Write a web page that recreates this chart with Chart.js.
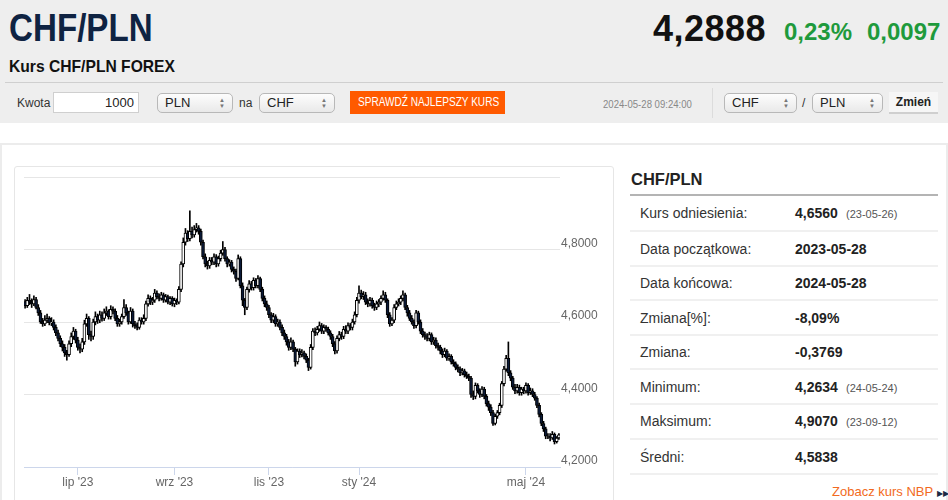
<!DOCTYPE html>
<html lang="pl">
<head>
<meta charset="utf-8">
<title>CHF/PLN</title>
<script src="https://cdn.jsdelivr.net/npm/chart.js@4.4.1/dist/chart.umd.min.js"></script>
<style>
  body { margin:0; width:948px; height:500px; overflow:hidden; background:#fff; position:relative;
         font-family:"Liberation Sans", Arial, sans-serif; color:#333; }
  .a { position:absolute; white-space:nowrap; }
  #top { position:absolute; left:0; top:0; width:948px; height:123px; background:#eeeeee; }
  #title { left:9px; top:8px; font-size:39px; line-height:39px; font-weight:bold; color:#0f2342; transform:scaleX(0.85); transform-origin:0 0; }
  #sub { left:9px; top:58px; font-size:17px; line-height:17px; font-weight:bold; color:#111; transform:scaleX(0.92); transform-origin:0 0; }
  #price { left:653px; top:11px; font-size:36px; line-height:36px; font-weight:bold; color:#111; letter-spacing:0.5px; }
  .chg { top:20px; font-size:24px; line-height:24px; font-weight:bold; color:#1e9a3c; }
  #rule { left:5px; top:82px; width:938px; height:1px; background:#cfcfcf; }
  .lbl { font-size:12px; line-height:14px; color:#333; }
  .inp { background:#fff; border:1px solid #cfcfcf; height:21px; box-sizing:border-box; text-align:right;
         font-size:13px; line-height:19px; padding-right:4px; color:#222; }
  .sel { height:20px; box-sizing:border-box; border:1px solid #b8b8b8; border-radius:5px;
         background:linear-gradient(#fdfdfd,#e9e9e9); font-size:13px; line-height:18px; padding-left:7px; color:#222; }
  .sel i { position:absolute; right:7px; top:3px; font-style:normal; font-size:6px; line-height:6px; color:#777; }
  #btn { left:350px; top:91px; width:155px; height:23px; background:#ff5a00; }
  #btn span { left:8px; top:5px; font-size:12px; line-height:13px; color:#fff; transform:scaleX(0.84); transform-origin:0 0; }
  #date { left:603px; top:98px; font-size:11px; line-height:12px; color:#888; transform:scaleX(0.87); transform-origin:0 0; }
  #sep { left:712px; top:88px; width:1px; height:30px; background:#dcdcdc; }
  #zm { left:889px; top:92px; width:49px; height:22px; box-sizing:border-box; background:#f6f6f6; border-bottom:2px solid #cfcfcf;
        font-size:12px; line-height:20px; font-weight:bold; color:#222; text-align:center; }
  #card { left:0; top:143px; width:944px; height:400px; border:2px solid #ececec; border-bottom:none; }
  #box { left:14px; top:166px; width:598px; height:340px; border:1px solid #e6e6e6; border-radius:3px; }
  #box canvas { position:absolute; left:0; top:0; }
  #ptitle { left:631px; top:171px; font-size:16.5px; line-height:17px; font-weight:bold; color:#222; }
  #prule { left:630px; top:194px; width:308px; height:2px; background:#b4b4b4; }
  .hr { left:630px; width:308px; height:2px; background:#f0f0f0; }
  .k { left:640px; font-size:14px; line-height:16px; color:#333; }
  .v { left:795px; font-size:14px; line-height:16px; font-weight:bold; color:#222; }
  .d { left:846px; font-size:11px; line-height:16px; color:#555; }
  #nbp { left:832px; top:484px; font-size:13px; line-height:15px; color:#f26a21; }
  #nbp b { font-size:8px; color:#1d2a44; font-weight:normal; }
</style>
</head>
<body>
<div id="top"></div>
<div class="a" id="title">CHF/PLN</div>
<div class="a" id="sub">Kurs CHF/PLN FOREX</div>
<div class="a" id="price">4,2888</div>
<div class="a chg" style="left:784px">0,23%</div>
<div class="a chg" style="left:867px">0,0097</div>
<div class="a" id="rule"></div>

<div class="a lbl" style="left:17px;top:96px">Kwota</div>
<div class="a inp" style="left:53px;top:92px;width:86px">1000</div>
<div class="a sel" style="left:157px;top:93px;width:76px">PLN<i>▲<br>▼</i></div>
<div class="a lbl" style="left:239px;top:96px">na</div>
<div class="a sel" style="left:259px;top:93px;width:76px">CHF<i>▲<br>▼</i></div>
<div class="a" id="btn"><span class="a">SPRAWDŹ NAJLEPSZY KURS</span></div>
<div class="a" id="date">2024-05-28 09:24:00</div>
<div class="a" id="sep"></div>
<div class="a sel" style="left:724px;top:93px;width:73px">CHF<i>▲<br>▼</i></div>
<div class="a lbl" style="left:802px;top:96px">/</div>
<div class="a sel" style="left:812px;top:93px;width:71px">PLN<i>▲<br>▼</i></div>
<div class="a" id="zm">Zmień</div>

<div class="a" id="card"></div>
<div class="a" id="box"><canvas id="myChart" width="598" height="333"></canvas></div>

<div class="a" id="ptitle">CHF/PLN</div>
<div class="a" id="prule"></div>
<div class="a k" style="top:205px">Kurs odniesienia:</div><div class="a v" style="top:205px">4,6560</div><div class="a d" style="top:206px">(23-05-26)</div>
<div class="a hr" style="top:230px"></div>
<div class="a k" style="top:241px">Data początkowa:</div><div class="a v" style="top:241px">2023-05-28</div>
<div class="a hr" style="top:265px"></div>
<div class="a k" style="top:275px">Data końcowa:</div><div class="a v" style="top:275px">2024-05-28</div>
<div class="a hr" style="top:299px"></div>
<div class="a k" style="top:310px">Zmiana[%]:</div><div class="a v" style="top:310px">-8,09%</div>
<div class="a hr" style="top:334px"></div>
<div class="a k" style="top:344px">Zmiana:</div><div class="a v" style="top:344px">-0,3769</div>
<div class="a hr" style="top:368px"></div>
<div class="a k" style="top:379px">Minimum:</div><div class="a v" style="top:379px">4,2634</div><div class="a d" style="top:380px">(24-05-24)</div>
<div class="a hr" style="top:403px"></div>
<div class="a k" style="top:413px">Maksimum:</div><div class="a v" style="top:413px">4,9070</div><div class="a d" style="top:414px">(23-09-12)</div>
<div class="a hr" style="top:438px"></div>
<div class="a k" style="top:449px">Średni:</div><div class="a v" style="top:449px">4,5838</div>
<div class="a hr" style="top:473px"></div>
<div class="a" id="nbp">Zobacz kurs NBP <b>▶▶</b></div>

<script>
// kurs odniesienia (23-05-26) = otwarcie pierwszej świecy
const refClose = 4.656;

// dzienne kursy zamknięcia CHF/PLN, 2023-05-29 .. 2024-05-28
const closes = [
  4.645, 4.660, 4.655, 4.650, 4.662, 4.640, 4.625, 4.600, 4.595, 4.605,
  4.610, 4.598, 4.600, 4.585, 4.570, 4.555, 4.540, 4.530, 4.515, 4.510,
  4.540, 4.560, 4.575, 4.550, 4.530, 4.525, 4.545, 4.595, 4.610, 4.565,
  4.560, 4.600, 4.615, 4.605, 4.620, 4.610, 4.625, 4.630, 4.615, 4.635,
  4.630, 4.610, 4.595, 4.600, 4.615, 4.640, 4.625, 4.600, 4.630, 4.595,
  4.590, 4.585, 4.605, 4.600, 4.610, 4.650, 4.665, 4.655, 4.660, 4.680,
  4.670, 4.665, 4.675, 4.660, 4.670, 4.655, 4.665, 4.650, 4.660, 4.655,
  4.690, 4.760, 4.820, 4.845, 4.830, 4.850, 4.840, 4.855, 4.860, 4.850,
  4.820, 4.780, 4.760, 4.755, 4.770, 4.765, 4.780, 4.760, 4.775, 4.790,
  4.800, 4.775, 4.760, 4.765, 4.745, 4.740, 4.720, 4.775, 4.700, 4.660,
  4.640, 4.690, 4.705, 4.695, 4.715, 4.700, 4.720, 4.690, 4.665, 4.650,
  4.640, 4.620, 4.605, 4.615, 4.595, 4.600, 4.585, 4.570, 4.560, 4.545,
  4.530, 4.545, 4.525, 4.490, 4.520, 4.510, 4.515, 4.505, 4.495, 4.475,
  4.530, 4.575, 4.570, 4.580, 4.590, 4.575, 4.585, 4.580, 4.570, 4.560,
  4.540, 4.520, 4.555, 4.565, 4.560, 4.580, 4.575, 4.590, 4.585, 4.600,
  4.620, 4.660, 4.680, 4.670, 4.675, 4.655, 4.650, 4.660, 4.645, 4.640,
  4.650, 4.655, 4.665, 4.675, 4.660, 4.620, 4.595, 4.605, 4.640, 4.650,
  4.655, 4.665, 4.675, 4.640, 4.625, 4.610, 4.600, 4.590, 4.625, 4.600,
  4.575, 4.565, 4.560, 4.555, 4.565, 4.545, 4.550, 4.535, 4.530, 4.520,
  4.510, 4.520, 4.500, 4.505, 4.490, 4.485, 4.475, 4.470, 4.460, 4.465,
  4.455, 4.450, 4.445, 4.400, 4.395, 4.425, 4.410, 4.400, 4.415, 4.395,
  4.375, 4.365, 4.350, 4.320, 4.340, 4.350, 4.370, 4.430, 4.470, 4.500,
  4.460, 4.445, 4.420, 4.410, 4.420, 4.405, 4.415, 4.410, 4.425, 4.405,
  4.410, 4.400, 4.390, 4.370, 4.345, 4.320, 4.305, 4.285, 4.285, 4.280,
  4.290, 4.270, 4.280, 4.2888
];

// dzienne maksima
const highs = [
  4.662, 4.668, 4.676, 4.664, 4.672, 4.668, 4.648, 4.632, 4.610, 4.618,
  4.622, 4.615, 4.612, 4.606, 4.592, 4.578, 4.562, 4.548, 4.538, 4.522,
  4.548, 4.570, 4.585, 4.580, 4.558, 4.540, 4.555, 4.605, 4.622, 4.615,
  4.575, 4.608, 4.628, 4.622, 4.630, 4.628, 4.636, 4.642, 4.634, 4.645,
  4.642, 4.636, 4.618, 4.608, 4.622, 4.662, 4.648, 4.630, 4.640, 4.636,
  4.602, 4.598, 4.612, 4.612, 4.620, 4.658, 4.675, 4.672, 4.668, 4.690,
  4.686, 4.678, 4.682, 4.680, 4.676, 4.674, 4.670, 4.670, 4.666, 4.664,
  4.698, 4.766, 4.832, 4.858, 4.852, 4.907, 4.862, 4.866, 4.872, 4.866,
  4.856, 4.826, 4.788, 4.768, 4.778, 4.778, 4.788, 4.786, 4.782, 4.798,
  4.822, 4.806, 4.780, 4.772, 4.770, 4.752, 4.746, 4.785, 4.780, 4.708,
  4.665, 4.696, 4.714, 4.712, 4.722, 4.720, 4.728, 4.724, 4.696, 4.672,
  4.658, 4.646, 4.626, 4.624, 4.620, 4.608, 4.606, 4.592, 4.578, 4.566,
  4.552, 4.556, 4.550, 4.530, 4.526, 4.526, 4.524, 4.520, 4.512, 4.500,
  4.538, 4.582, 4.584, 4.588, 4.600, 4.596, 4.592, 4.590, 4.586, 4.576,
  4.566, 4.546, 4.562, 4.574, 4.572, 4.588, 4.590, 4.598, 4.596, 4.608,
  4.628, 4.668, 4.700, 4.688, 4.684, 4.682, 4.664, 4.668, 4.666, 4.652,
  4.658, 4.662, 4.672, 4.686, 4.682, 4.664, 4.626, 4.612, 4.648, 4.658,
  4.664, 4.672, 4.686, 4.680, 4.646, 4.632, 4.618, 4.606, 4.632, 4.630,
  4.606, 4.582, 4.572, 4.568, 4.572, 4.570, 4.558, 4.556, 4.542, 4.536,
  4.526, 4.528, 4.524, 4.512, 4.510, 4.496, 4.490, 4.482, 4.476, 4.472,
  4.470, 4.462, 4.456, 4.450, 4.410, 4.432, 4.430, 4.416, 4.422, 4.420,
  4.400, 4.382, 4.372, 4.356, 4.346, 4.356, 4.376, 4.436, 4.478, 4.508,
  4.545, 4.466, 4.450, 4.428, 4.428, 4.426, 4.420, 4.420, 4.432, 4.430,
  4.418, 4.416, 4.406, 4.394, 4.376, 4.350, 4.326, 4.310, 4.292, 4.292,
  4.298, 4.294, 4.284, 4.292
];

// dzienne minima
const lows = [
  4.638, 4.640, 4.648, 4.640, 4.645, 4.636, 4.618, 4.596, 4.588, 4.590,
  4.598, 4.592, 4.590, 4.578, 4.562, 4.548, 4.532, 4.520, 4.505, 4.495,
  4.505, 4.532, 4.552, 4.542, 4.522, 4.515, 4.518, 4.538, 4.588, 4.552,
  4.548, 4.552, 4.592, 4.596, 4.598, 4.602, 4.604, 4.618, 4.608, 4.608,
  4.622, 4.604, 4.588, 4.588, 4.594, 4.610, 4.618, 4.594, 4.596, 4.586,
  4.582, 4.578, 4.580, 4.594, 4.594, 4.604, 4.644, 4.648, 4.648, 4.654,
  4.664, 4.658, 4.660, 4.654, 4.655, 4.650, 4.648, 4.644, 4.642, 4.648,
  4.650, 4.684, 4.752, 4.812, 4.822, 4.824, 4.832, 4.834, 4.848, 4.842,
  4.812, 4.774, 4.752, 4.746, 4.748, 4.758, 4.758, 4.752, 4.754, 4.768,
  4.784, 4.768, 4.752, 4.754, 4.738, 4.732, 4.712, 4.716, 4.694, 4.645,
  4.620, 4.634, 4.682, 4.688, 4.688, 4.694, 4.694, 4.684, 4.658, 4.642,
  4.632, 4.612, 4.598, 4.598, 4.588, 4.588, 4.578, 4.562, 4.552, 4.536,
  4.522, 4.524, 4.518, 4.478, 4.484, 4.502, 4.504, 4.498, 4.488, 4.466,
  4.470, 4.524, 4.562, 4.564, 4.574, 4.568, 4.568, 4.574, 4.564, 4.552,
  4.532, 4.512, 4.514, 4.548, 4.552, 4.554, 4.568, 4.568, 4.578, 4.578,
  4.594, 4.614, 4.652, 4.664, 4.662, 4.648, 4.642, 4.644, 4.638, 4.632,
  4.634, 4.642, 4.648, 4.660, 4.654, 4.612, 4.588, 4.590, 4.598, 4.634,
  4.644, 4.648, 4.658, 4.634, 4.616, 4.604, 4.594, 4.582, 4.584, 4.594,
  4.568, 4.558, 4.552, 4.548, 4.548, 4.538, 4.538, 4.528, 4.522, 4.512,
  4.502, 4.504, 4.494, 4.494, 4.484, 4.478, 4.468, 4.462, 4.452, 4.454,
  4.448, 4.444, 4.438, 4.392, 4.386, 4.388, 4.404, 4.392, 4.394, 4.388,
  4.368, 4.356, 4.342, 4.315, 4.316, 4.334, 4.344, 4.364, 4.424, 4.464,
  4.452, 4.438, 4.414, 4.402, 4.404, 4.398, 4.398, 4.402, 4.404, 4.398,
  4.400, 4.394, 4.384, 4.364, 4.338, 4.314, 4.298, 4.278, 4.278, 4.272,
  4.276, 4.2634, 4.266, 4.276
];

// etykiety osi czasu
const monthIdx    = [24, 68, 111, 152, 228];
const monthLabels = ["lip '23", "wrz '23", "lis '23", "sty '24", "maj '24"];

const yTicks = [4.2, 4.4, 4.6, 4.8, 5.0];

const buildCandles = () => {
    const bodies = [], wicks = [], colors = [];
    closes.forEach((c, i) => {
        const o = i ? closes[i - 1] : refClose;
        bodies.push([o, c]);
        wicks.push([lows[i], highs[i]]);
        colors.push(c >= o ? "#ffffff" : "#0b1a38");
    });
    return { bodies, wicks, colors };
};

const renderChart = () => {
    const ctx = document.getElementById("myChart");
    const { bodies, wicks, colors } = buildCandles();
    new Chart(ctx, {
        type: "bar",
        data: {
            labels: closes.map((_, i) => i),
            datasets: [
                {
                    label: "body",
                    data: bodies,
                    backgroundColor: colors,
                    borderColor: "#000",
                    borderWidth: 1,
                    borderSkipped: false,
                    barThickness: 3,
                    grouped: false,
                    order: 0,
                },
                {
                    label: "wick",
                    data: wicks,
                    backgroundColor: "#000",
                    barThickness: 1,
                    grouped: false,
                    order: 1,
                },
            ],
        },
        options: {
            responsive: false,
            animation: false,
            layout: { padding: { left: 9, top: 10, right: 0, bottom: 0 } },
            plugins: { legend: { display: false }, tooltip: { enabled: false } },
            scales: {
                x: {
                    afterBuildTicks: (s) => { s.ticks = s.ticks.filter((t) => monthIdx.includes(t.value)); },
                    afterFit: (s) => { s.height = 33; },
                    ticks: {
                        autoSkip: false,
                        maxRotation: 0,
                        padding: 0,
                        color: "#666",
                        font: { family: "Liberation Sans", size: 12 },
                        callback: (v) => monthLabels[monthIdx.indexOf(v)],
                    },
                    grid: {
                        offset: false,
                        drawOnChartArea: false,
                        tickLength: 8,
                        tickColor: "#ccd6eb",
                    },
                    border: { color: "#ccd6eb" },
                },
                y: {
                    position: "right",
                    min: 4.2,
                    max: 5.0,
                    afterBuildTicks: (s) => { s.ticks = yTicks.map((v) => ({ value: v })); },
                    afterFit: (s) => { s.width = 53; },
                    ticks: {
                        padding: 1,
                        labelOffset: -6,
                        color: "#666",
                        font: { family: "Liberation Sans", size: 12 },
                        callback: (v) => (v >= 4.99 ? "" : v.toFixed(4).replace(".", ",")),
                    },
                    grid: { color: "#e6e6e6", drawTicks: false },
                    border: { display: false },
                },
            },
        },
    });
};

renderChart();
</script>
</body>
</html>
